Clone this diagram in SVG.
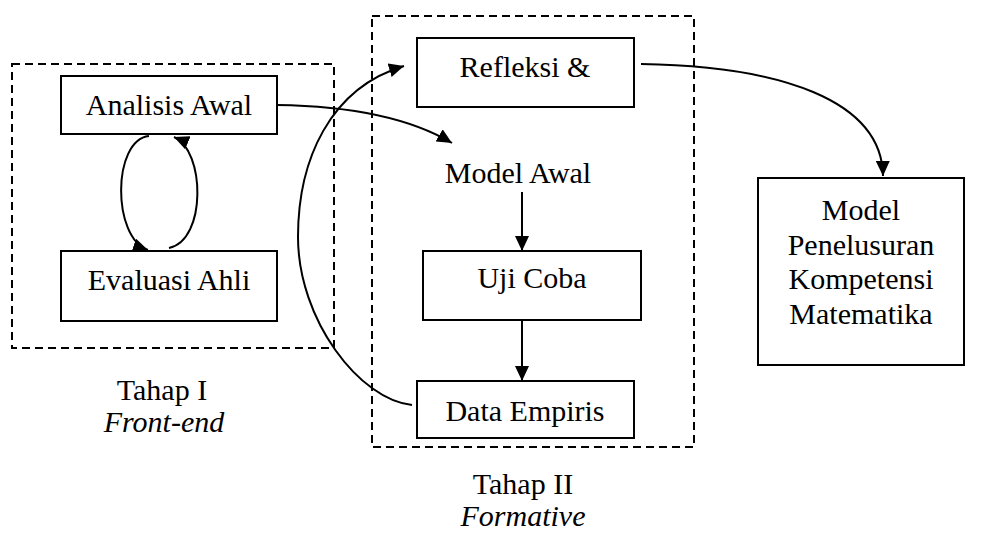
<svg xmlns="http://www.w3.org/2000/svg" width="995" height="534" viewBox="0 0 995 534">
  <style>
    text { font-family: "Liberation Serif", "Times New Roman", serif; font-size: 30px; fill: #000; text-anchor: middle; }
    .it { font-style: italic; }
    .box { fill: #fff; stroke: #000; stroke-width: 2; }
    .stage { fill: none; stroke: #000; stroke-width: 2; stroke-dasharray: 8 5; }
    .link { fill: none; stroke: #000; stroke-width: 2; marker-end: url(#arrow); }
  </style>
  <defs>
    <marker id="arrow" markerUnits="userSpaceOnUse" markerWidth="16" markerHeight="14" refX="15" refY="7" orient="auto">
      <path d="M0,0 L15,7 L0,14 z" fill="#000"/>
    </marker>
  </defs>
  <rect width="995" height="534" fill="#fff"/>

  <!-- stage frames -->
  <g id="stage1">
    <rect class="stage" x="12" y="64" width="322" height="284"/>
    <text x="162" y="400">Tahap I</text>
    <text class="it" x="164" y="432">Front-end</text>
  </g>
  <g id="stage2">
    <rect class="stage" x="372" y="16" width="322" height="431"/>
    <text x="523" y="494">Tahap II</text>
    <text class="it" x="523" y="526">Formative</text>
  </g>

  <!-- nodes -->
  <g id="analisis-awal">
    <rect class="box" x="61" y="76" width="216" height="58"/>
    <text x="169" y="115">Analisis Awal</text>
  </g>
  <g id="evaluasi-ahli">
    <rect class="box" x="61" y="251" width="216" height="70"/>
    <text x="169" y="290">Evaluasi Ahli</text>
  </g>
  <g id="refleksi">
    <rect class="box" x="417" y="38" width="217" height="69"/>
    <text x="525" y="77">Refleksi &amp;</text>
  </g>
  <g id="model-awal">
    <text x="518" y="183">Model Awal</text>
  </g>
  <g id="uji-coba">
    <rect class="box" x="423" y="251" width="218" height="69"/>
    <text x="532" y="288">Uji Coba</text>
  </g>
  <g id="data-empiris">
    <rect class="box" x="417" y="381" width="217" height="57"/>
    <text x="525" y="421">Data Empiris</text>
  </g>
  <g id="model-penelusuran">
    <rect class="box" x="758" y="178" width="206" height="187"/>
    <text x="861" y="220">Model</text>
    <text x="861" y="254.5">Penelusuran</text>
    <text x="861" y="289">Kompetensi</text>
    <text x="861" y="323.5">Matematika</text>
  </g>

  <!-- connectors -->
  <g id="connectors">
    <path class="link" d="M149,136 C112,140 112,238 148,250"/>
    <path class="link" d="M169,248 C207,240 205,150 174,137"/>
    <path class="link" d="M277,105 C350,106 410,118 452,143"/>
    <path class="link" d="M412,405 C360,400 298,320 298,237 C298,160 330,88 404,66"/>
    <path class="link" d="M522,192 L522,251"/>
    <path class="link" d="M522,320 L522,381"/>
    <path class="link" d="M641,64 C780,66 882,100 883,176"/>
  </g>
</svg>
